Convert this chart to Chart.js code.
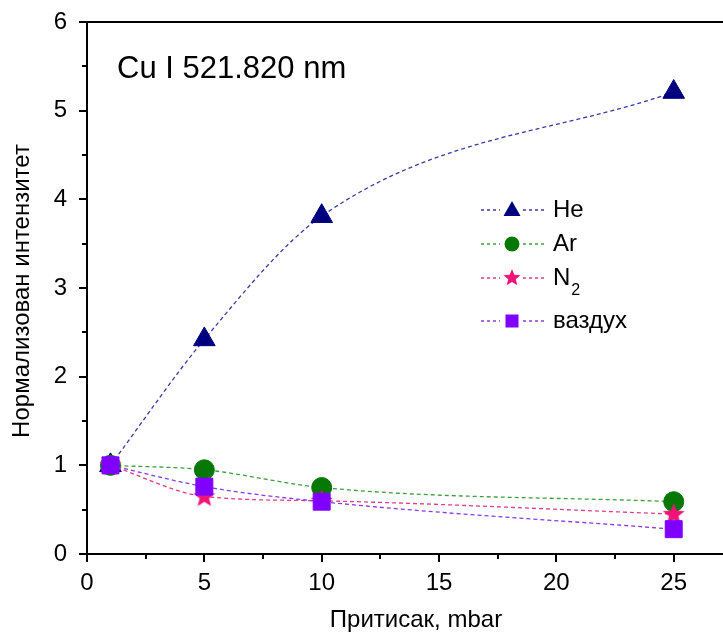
<!DOCTYPE html>
<html>
<head>
<meta charset="utf-8">
<script src="https://cdn.jsdelivr.net/npm/chart.js@4.4.0/dist/chart.umd.min.js"></script>
<style>
    html, body { margin: 0; padding: 0; background: #fff; overflow: hidden; }
    canvas { display: block; }
</style>
</head>
<body>
<canvas id="pressureChart" width="723" height="638"></canvas>
<script>
// pressure values (mbar)
const pressures = [1, 5, 10, 25];
const heValues = [1.0, 2.42, 3.81, 5.21];
const arValues = [1.0, 0.95, 0.75, 0.59];
const n2Values = [1.0, 0.65, 0.60, 0.45];
const airValues = [1.0, 0.76, 0.59, 0.28];
const seriesLabels = ['He', 'Ar', 'N2', 'ваздух'];
const xTickValues = [0, 5, 10, 15, 20, 25];
const yTickValues = [0, 1, 2, 3, 4, 5, 6];

const FONT = "'Liberation Sans', Arial, Helvetica, sans-serif";

const colors = {
    he:  { line: '#3a3aa8', mark: '#00007f' },
    ar:  { line: '#3f9c3f', mark: '#067806' },
    n2:  { line: '#e33c86', mark: '#f0147a' },
    air: { line: '#8a38ee', mark: '#8000ff' }
};

function starPath(ctx, cx, cy, outer, inner) {
    ctx.beginPath();
    for (let i = 0; i < 10; i++) {
        const r = i % 2 === 0 ? outer : inner;
        const a = -Math.PI / 2 + i * Math.PI / 5;
        const px = cx + r * Math.cos(a);
        const py = cy + r * Math.sin(a);
        if (i === 0) ctx.moveTo(px, py); else ctx.lineTo(px, py);
    }
    ctx.closePath();
}

// filled star marker (Chart.js 'star' is only stroked)
const starCanvas = document.createElement('canvas');
starCanvas.width = 24;
starCanvas.height = 24;
(function() {
    const c = starCanvas.getContext('2d');
    c.fillStyle = colors.n2.mark;
    starPath(c, 12, 12.5, 11.5, 5);
    c.fill();
})();

function toPoints(values) {
    return pressures.map((p, i) => ({ x: p, y: values[i] }));
}

function lineSet(label, values, col, style, radius, order) {
    return {
        label: label,
        data: toPoints(values),
        borderColor: col.line,
        backgroundColor: col.mark,
        borderWidth: 1.3,
        borderDash: [4, 3],
        tension: 0.4,
        cubicInterpolationMode: 'monotone',
        pointStyle: style,
        pointRadius: radius,
        pointBorderWidth: 1,
        pointBorderColor: col.mark,
        pointBackgroundColor: col.mark,
        order: order
    };
}

// ticks, frame, annotation, titles and legend
const decorPlugin = {
    id: 'decor',
    afterDraw(chart) {
        const ctx = chart.ctx;
        const area = chart.chartArea;
        const xs = chart.scales.x;
        const ys = chart.scales.y;
        ctx.save();
        ctx.strokeStyle = '#000';
        ctx.lineWidth = 2;

        // top frame line
        ctx.beginPath();
        ctx.moveTo(area.left - 1, area.top);
        ctx.lineTo(area.right, area.top);
        ctx.stroke();

        // x tick marks (major + minor)
        for (let v = 0; v <= xs.max + 0.001; v += 2.5) {
            const px = Math.round(xs.getPixelForValue(v));
            const len = (v % 5 === 0) ? 8 : 5;
            ctx.beginPath();
            ctx.moveTo(px, area.bottom);
            ctx.lineTo(px, area.bottom + len);
            ctx.stroke();
        }
        // y tick marks
        for (let v = 0; v <= ys.max + 0.001; v += 0.5) {
            const py = Math.round(ys.getPixelForValue(v));
            const len = (v % 1 === 0) ? 8 : 5;
            ctx.beginPath();
            ctx.moveTo(area.left, py);
            ctx.lineTo(area.left - len, py);
            ctx.stroke();
        }

        ctx.fillStyle = '#000';
        // annotation
        ctx.font = '31px ' + FONT;
        ctx.textAlign = 'left';
        ctx.textBaseline = 'alphabetic';
        ctx.fillText('Cu I 521.820 nm', 117, 78);

        // axis titles
        ctx.font = '24px ' + FONT;
        ctx.textAlign = 'center';
        ctx.fillText('Притисак, mbar', 416, 627);
        ctx.save();
        ctx.translate(29, 291);
        ctx.rotate(-Math.PI / 2);
        ctx.fillText('Нормализован интензитет', 0, 0);
        ctx.restore();

        // legend
        const legendRows = [
            { key: 'he', y: 210 },
            { key: 'ar', y: 244 },
            { key: 'n2', y: 278 },
            { key: 'air', y: 321 }
        ];
        legendRows.forEach((row, i) => {
            const col = colors[row.key];
            ctx.strokeStyle = col.line;
            ctx.lineWidth = 1.3;
            ctx.setLineDash([3, 3]);
            ctx.beginPath();
            ctx.moveTo(481, row.y);
            ctx.lineTo(500, row.y);
            ctx.moveTo(523, row.y);
            ctx.lineTo(544, row.y);
            ctx.stroke();
            ctx.setLineDash([]);

            const mx = 512, my = row.y;
            ctx.fillStyle = col.mark;
            ctx.beginPath();
            if (row.key === 'he') {
                ctx.moveTo(mx, my - 9);
                ctx.lineTo(mx + 8.5, my + 6);
                ctx.lineTo(mx - 8.5, my + 6);
                ctx.closePath();
                ctx.fill();
            } else if (row.key === 'ar') {
                ctx.arc(mx, my, 7.5, 0, Math.PI * 2);
                ctx.fill();
            } else if (row.key === 'n2') {
                starPath(ctx, mx, my, 9, 4);
                ctx.fill();
            } else {
                ctx.rect(mx - 6.5, my - 6.5, 13, 13);
                ctx.fill();
            }

            ctx.fillStyle = '#000';
            ctx.textAlign = 'left';
            ctx.textBaseline = 'middle';
            ctx.font = '24px ' + FONT;
            if (row.key === 'n2') {
                ctx.fillText('N', 553, my);
                const w = ctx.measureText('N').width;
                ctx.font = '16px ' + FONT;
                ctx.fillText('2', 553 + w + 1, my + 13);
            } else {
                ctx.fillText(seriesLabels[i], 553, my);
            }
        });
        ctx.restore();
    }
};

const ctx = document.getElementById('pressureChart').getContext('2d');
const chart = new Chart(ctx, {
    type: 'line',
    data: {
        datasets: [
            lineSet(seriesLabels[0], heValues, colors.he, 'triangle', 12.5, 3),
            lineSet(seriesLabels[1], arValues, colors.ar, 'circle', 10, 2),
            lineSet(seriesLabels[2], n2Values, colors.n2, starCanvas, 11, 1),
            lineSet(seriesLabels[3], airValues, colors.air, 'rect', 12, 0)
        ]
    },
    options: {
        responsive: false,
        animation: false,
        devicePixelRatio: 1,
        layout: {
            autoPadding: false,
            padding: { left: 0, right: 0, top: 22, bottom: 0 }
        },
        scales: {
            x: {
                type: 'linear',
                min: 0,
                max: 27.1,
                afterFit(scale) {
                    scale.height = 84;
                    scale.paddingLeft = 0;
                    scale.paddingRight = 0;
                },
                afterBuildTicks(scale) {
                    scale.ticks = xTickValues.map(v => ({ value: v }));
                },
                grid: { drawOnChartArea: false, drawTicks: false },
                border: { color: '#000', width: 2 },
                ticks: {
                    padding: 15,
                    color: '#000',
                    font: { size: 24, family: FONT }
                }
            },
            y: {
                type: 'linear',
                min: 0,
                max: 6,
                afterFit(scale) {
                    scale.width = 87;
                    scale.paddingTop = 0;
                    scale.paddingBottom = 0;
                },
                afterBuildTicks(scale) {
                    scale.ticks = yTickValues.map(v => ({ value: v }));
                },
                grid: { drawOnChartArea: false, drawTicks: false },
                border: { color: '#000', width: 2 },
                ticks: {
                    padding: 20,
                    color: '#000',
                    font: { size: 24, family: FONT }
                }
            }
        },
        plugins: {
            legend: { display: false },
            tooltip: { enabled: false }
        }
    },
    plugins: [decorPlugin]
});
</script>
</body>
</html>
